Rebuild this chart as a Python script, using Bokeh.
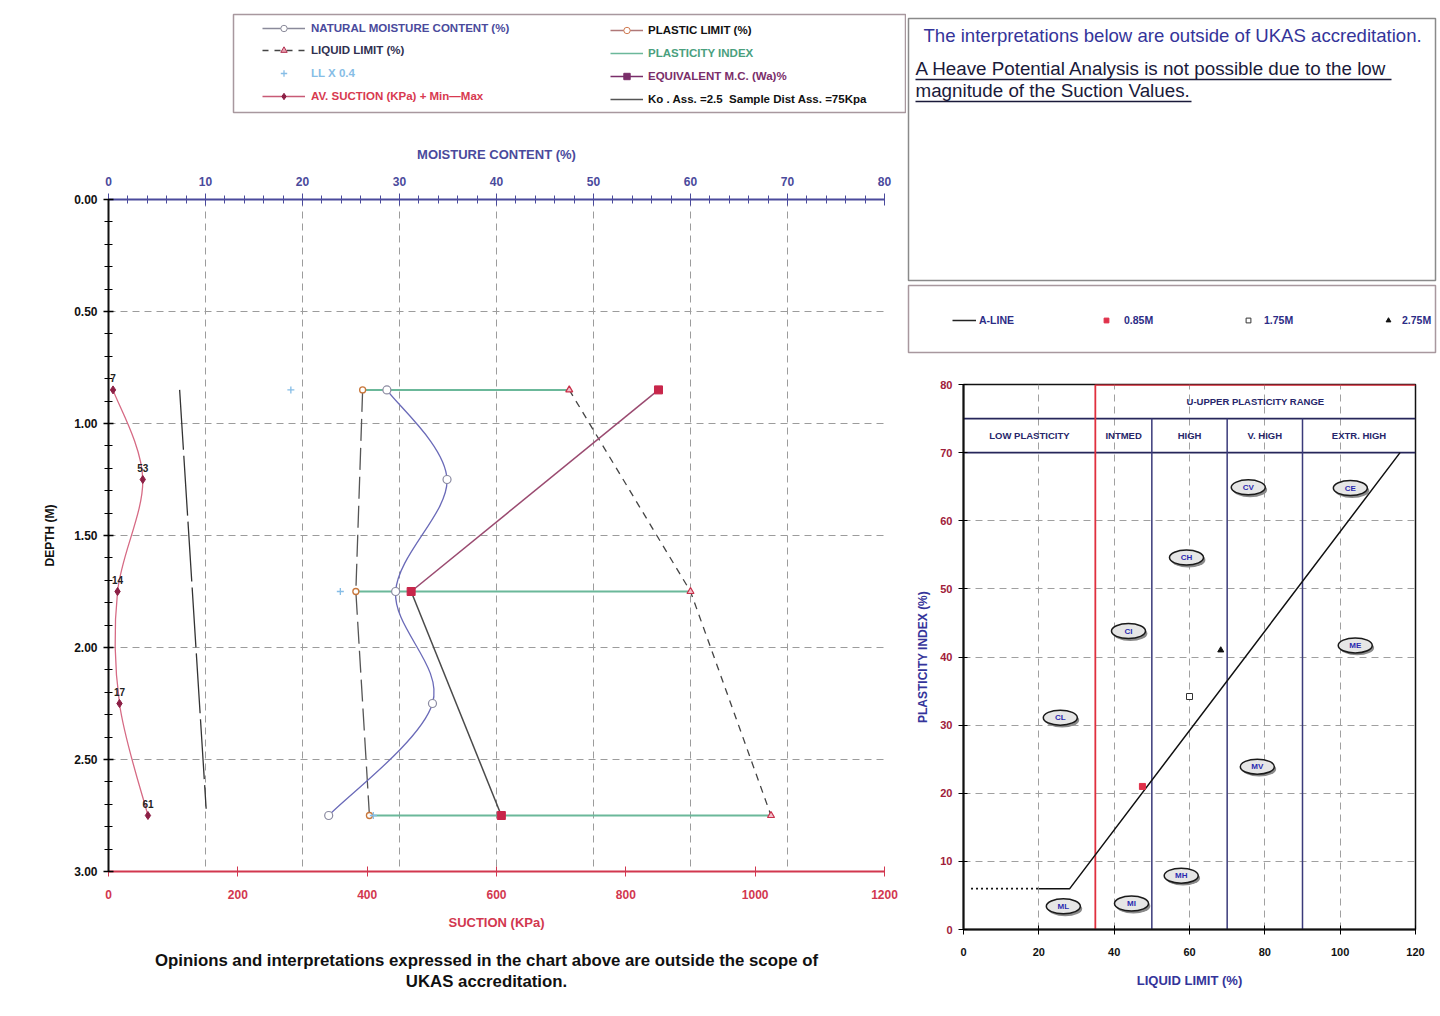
import numpy as np
from bokeh.plotting import figure
from bokeh.layouts import row, column
from bokeh.models import (Range1d, LinearAxis, FixedTicker, NumeralTickFormatter,
                          Legend, LegendItem, ColumnDataSource)
from bokeh.core.properties import value
from bokeh.embed import file_html
from bokeh.resources import INLINE

FONT = "Liberation Sans"

# ---------------- data ----------------
sample_depth = [0.85, 1.75, 2.75]
liquid_limit = [47.5, 60.0, 68.3]
plastic_limit = [26.2, 25.5, 26.9]
plasticity_index = [21.0, 34.2, 41.0]
ll_x04 = [18.8, 23.9, 27.3]
equivalent_mc = [56.7, 31.2, 40.5]

mc_depth = [0.85, 1.25, 1.75, 2.25, 2.75]
natural_mc = [28.7, 34.9, 29.6, 33.4, 22.7]

suction_depth = [0.85, 1.25, 1.75, 2.25, 2.75]
av_suction = [7, 53, 14, 17, 61]

ko_depth = [0.85, 2.72]
ko_suction = [110, 151]

moisture_ticks = [0, 10, 20, 30, 40, 50, 60, 70, 80]
moisture_minor = list(range(0, 81, 2))
depth_ticks = [0.0, 0.5, 1.0, 1.5, 2.0, 2.5, 3.0]
depth_minor = [round(i * 0.1, 1) for i in range(31)]
suction_ticks = [0, 200, 400, 600, 800, 1000, 1200]

# plasticity chart
sample_labels = ["0.85M", "1.75M", "2.75M"]
sample_markers = ["square", "square", "triangle"]
a_line_ll = [20, 28.2, 115.9]
a_line_pi = [6, 6, 70]
a_line_ext_ll = [2, 20]
a_line_ext_pi = [6, 6]
zone_bounds = [0, 35, 50, 70, 90, 120]
zone_names = ["LOW PLASTICITY", "INTMED", "HIGH", "V. HIGH", "EXTR. HIGH"]
upper_range_name = "U-UPPER PLASTICITY RANGE"
header_levels = [70, 75, 80]
class_codes = ["CV", "CE", "CH", "CI", "ME", "CL", "MV", "MH", "MI", "ML"]
class_ll = [75.6, 102.7, 59.2, 43.8, 104.0, 25.7, 78.0, 57.8, 44.6, 26.5]
class_pi = [64.9, 64.8, 54.6, 43.8, 41.7, 31.1, 23.9, 7.9, 3.8, 3.4]
ll_ticks = [0, 20, 40, 60, 80, 100, 120]
pi_ticks = [0, 10, 20, 30, 40, 50, 60, 70, 80]

note_lines = ["The interpretations below are outside of UKAS accreditation.",
              "A Heave Potential Analysis is not possible due to the low",
              "magnitude of the Suction Values."]
caption_lines = ["Opinions and interpretations expressed in the chart above are outside the scope of",
                 "UKAS accreditation."]

# ---------------- colours ----------------
C_BLUE = "#4a4a9c"
C_RED = "#d2374f"
C_NAVY = "#2c2c86"

OFF = dict(x=[-10, -9], y=[-10, -9])   # legend-only renderers sit outside the view


def smooth(xs, ys):
    """Bezier control points (Catmull-Rom style, like spreadsheet smoothed lines)."""
    x = np.asarray(xs, float)
    y = np.asarray(ys, float)
    n = len(x)
    xp = np.concatenate([[x[0]], x, [x[-1]]])
    yp = np.concatenate([[y[0]], y, [y[-1]]])
    cx0 = x[:-1] + (xp[2:n + 1] - xp[0:n - 1]) / 6.0
    cy0 = y[:-1] + (yp[2:n + 1] - yp[0:n - 1]) / 6.0
    cx1 = x[1:] - (xp[3:n + 2] - xp[1:n]) / 6.0
    cy1 = y[1:] - (yp[3:n + 2] - yp[1:n]) / 6.0
    return dict(x0=x[:-1], y0=y[:-1], x1=x[1:], y1=y[1:], cx0=cx0, cy0=cy0, cx1=cx1, cy1=cy1)


def bare(fig):
    fig.grid.visible = False
    fig.background_fill_color = "white"
    fig.border_fill_color = "white"


def add_legend(fig, rends, label, color, x, y, gw, standoff, size="11.5px"):
    lg = Legend(items=[LegendItem(label=label, renderers=rends)], location=(x, y),
                padding=0, margin=0, spacing=0, glyph_width=gw, glyph_height=16,
                label_height=16, label_standoff=standoff,
                label_text_font=FONT, label_text_font_size=size,
                label_text_font_style="bold", label_text_color=color,
                border_line_color=None, background_fill_alpha=0)
    fig.add_layout(lg)


# ================= LEFT: legend box =================
leg = figure(width=906, height=130, x_range=Range1d(0, 1), y_range=Range1d(0, 1),
             x_axis_location=None, y_axis_location=None, toolbar_location=None,
             output_backend="svg", min_border_left=233, min_border_right=1,
             min_border_top=14, min_border_bottom=18, frame_align=False)
bare(leg)
leg.outline_line_color = "#a8989e"
leg.outline_line_width = 1.5

r1a = leg.line(**OFF, line_color="#8a8a9a", line_width=1.3)
r1b = leg.scatter(**OFF, marker="circle", size=6, fill_color="white", line_color="#8a8a9a")
r2a = leg.line(**OFF, line_color="#444", line_width=1.3, line_dash="6 6")
r2b = leg.scatter(**OFF, marker="triangle", size=6, fill_color="#e8a0b0", line_color="#b03050")
r3 = leg.scatter(**OFF, marker="cross", size=6, line_color="#86bde6", line_width=1.3)
r4a = leg.line(**OFF, line_color="#c85a76", line_width=1.3)
r4b = leg.scatter(**OFF, marker="diamond", size=7, fill_color="#8c1f45", line_color="#8c1f45")
r5a = leg.line(**OFF, line_color="#b07878", line_width=1.3)
r5b = leg.scatter(**OFF, marker="circle", size=6, fill_color="white", line_color="#d07a50")
r6 = leg.line(**OFF, line_color="#6bb89a", line_width=1.6)
r7a = leg.line(**OFF, line_color="#7a2e6a", line_width=1.6)
r7b = leg.scatter(**OFF, marker="square", size=6, fill_color="#7a2e6a", line_color="#7a2e6a")
r8 = leg.line(**OFF, line_color="#555", line_width=1.6)

# col 1 (frame left = 233, frame bottom = 112)
add_legend(leg, [r1a, r1b], "NATURAL MOISTURE CONTENT (%)", C_BLUE, 29, 112 - 28 - 8, 43, 6)
add_legend(leg, [r2a, r2b], "LIQUID LIMIT (%)", "#303050", 29, 112 - 50 - 8, 43, 6)
add_legend(leg, [r3], "LL X 0.4", "#86bde6", 29, 112 - 73 - 8, 43, 6)
add_legend(leg, [r4a, r4b], "AV. SUCTION (KPa) + Min\u2014Max", "#d83a50", 29, 112 - 96 - 8, 43, 6)
# col 2
add_legend(leg, [r5a, r5b], "PLASTIC LIMIT (%)", "#111", 377, 112 - 30 - 8, 33, 5)
add_legend(leg, [r6], "PLASTICITY INDEX", "#4aa07e", 377, 112 - 53 - 8, 33, 5)
add_legend(leg, [r7a, r7b], "EQUIVALENT M.C. (Wa)%", "#7a2e6a", 377, 112 - 76 - 8, 33, 5)
add_legend(leg, [r8], "Ko . Ass. =2.5  Sample Dist Ass. =75Kpa", "#111", 377, 112 - 99 - 8, 33, 5)

# ================= LEFT: main depth chart =================
main = figure(width=906, height=810, x_range=Range1d(0, 80), y_range=Range1d(3.0, 0.0),
              x_axis_location="above", toolbar_location=None, output_backend="svg",
              min_border_left=108, min_border_right=22, min_border_top=69,
              min_border_bottom=69, frame_align=False)
main.extra_x_ranges = {"suction": Range1d(0, 1200)}
main.outline_line_color = None
main.background_fill_color = "white"

top = main.xaxis[0]
top.ticker = FixedTicker(ticks=moisture_ticks, minor_ticks=moisture_minor)
top.axis_label = "MOISTURE CONTENT (%)"
top.axis_line_color = C_BLUE
top.axis_line_width = 2
top.major_tick_line_color = C_BLUE
top.minor_tick_line_color = C_BLUE
top.major_tick_in = 6
top.major_tick_out = 6
top.minor_tick_in = 4
top.minor_tick_out = 4
top.major_label_text_color = C_BLUE
top.major_label_text_font = FONT
top.major_label_text_font_size = "12px"
top.major_label_text_font_style = "bold"
top.major_label_standoff = 8
top.axis_label_text_color = C_BLUE
top.axis_label_text_font = FONT
top.axis_label_text_font_size = "13px"
top.axis_label_text_font_style = "bold"
top.axis_label_standoff = 12

left = main.yaxis[0]
left.ticker = FixedTicker(ticks=depth_ticks, minor_ticks=depth_minor)
left.formatter = NumeralTickFormatter(format="0.00")
left.axis_label = "DEPTH (M)"
left.axis_line_color = "#111"
left.axis_line_width = 2
left.major_tick_in = 5
left.major_tick_out = 5
left.minor_tick_in = 4
left.minor_tick_out = 4
left.major_tick_line_width = 1.5
left.major_label_text_font = FONT
left.major_label_text_font_size = "12px"
left.major_label_text_font_style = "bold"
left.major_label_text_color = "#111"
left.major_label_standoff = 6
left.axis_label_text_font = FONT
left.axis_label_text_font_size = "12px"
left.axis_label_text_font_style = "bold"
left.axis_label_text_color = "#111"
left.axis_label_standoff = 14

sax = LinearAxis(x_range_name="suction", ticker=FixedTicker(ticks=suction_ticks),
                 axis_label="SUCTION (KPa)")
sax.axis_line_color = C_RED
sax.axis_line_width = 2
sax.major_tick_line_color = C_RED
sax.major_tick_in = 5
sax.major_tick_out = 5
sax.minor_tick_line_color = None
sax.major_label_text_color = C_RED
sax.major_label_text_font = FONT
sax.major_label_text_font_size = "12px"
sax.major_label_text_font_style = "bold"
sax.major_label_standoff = 13
sax.axis_label_text_color = C_RED
sax.axis_label_text_font = FONT
sax.axis_label_text_font_size = "13px"
sax.axis_label_text_font_style = "bold"
sax.axis_label_standoff = 13
main.add_layout(sax, "below")

for g in (main.xgrid[0], main.ygrid[0]):
    g.grid_line_color = "#9c9c9c"
    g.grid_line_dash = "7 5"
    g.grid_line_width = 1

# Ko line (suction scale)
main.line(ko_suction, ko_depth, x_range_name="suction", line_color="#333",
          line_width=1.3, line_dash="60 6")

# plasticity index bars (PL -> LL)
main.segment(x0=plastic_limit, y0=sample_depth, x1=liquid_limit, y1=sample_depth,
             line_color="#6bb89a", line_width=2)

# liquid limit
main.line(liquid_limit, sample_depth, line_color="#444", line_width=1.3, line_dash="7 6")
main.scatter(liquid_limit, sample_depth, marker="triangle", size=7,
             fill_color="#f3c0cb", line_color="#c8304a", line_width=1.2)

# plastic limit
main.line(plastic_limit, sample_depth, line_color="#555", line_width=1.3, line_dash="22 7")
main.scatter(plastic_limit, sample_depth, marker="circle", size=6,
             fill_color="white", line_color="#c8763a", line_width=1.3)

# LL x 0.4
main.scatter(ll_x04, sample_depth, marker="cross", size=7, line_color="#86bde6", line_width=1.3)

# equivalent M.C.
main.line(equivalent_mc[:2], sample_depth[:2], line_color="#9a4a70", line_width=1.5)
main.line(equivalent_mc[1:], sample_depth[1:], line_color="#4a4a4a", line_width=1.5)
main.scatter(equivalent_mc, sample_depth, marker="square", size=8,
             fill_color="#c8264a", line_color="#c8264a")

# natural moisture content (smoothed)
nm = smooth(natural_mc, mc_depth)
main.bezier(source=ColumnDataSource(nm), x0="x0", y0="y0", x1="x1", y1="y1",
            cx0="cx0", cy0="cy0", cx1="cx1", cy1="cy1", line_color="#6a6ab8", line_width=1.3)
main.scatter(natural_mc, mc_depth, marker="circle", size=8, fill_color="white",
             line_color="#8a8aa0", line_width=1.2)

# suction (smoothed, suction scale)
sm = smooth(av_suction, suction_depth)
main.bezier(source=ColumnDataSource(sm), x0="x0", y0="y0", x1="x1", y1="y1",
            cx0="cx0", cy0="cy0", cx1="cx1", cy1="cy1", x_range_name="suction",
            line_color="#d66a84", line_width=1.3)
main.scatter(av_suction, suction_depth, x_range_name="suction", marker="diamond", size=8,
             fill_color="#8c1f45", line_color="#8c1f45")
main.text(x=av_suction, y=suction_depth, text=[str(v) for v in av_suction],
          x_range_name="suction", text_align="center", text_baseline="bottom", y_offset=-8,
          text_font=value(FONT), text_font_size="10px", text_font_style="bold",
          text_color="#222")

# ================= LEFT: caption =================
cap = figure(width=906, height=72, x_range=Range1d(0, 906), y_range=Range1d(1012, 940),
             x_axis_location=None, y_axis_location=None, toolbar_location=None,
             output_backend="svg", min_border=0, frame_align=False)
bare(cap)
cap.outline_line_color = None
cap.text(x=[486, 486], y=[960, 981], text=caption_lines, text_align="center",
         text_baseline="middle", text_font=value(FONT), text_font_size="16.8px",
         text_font_style="bold", text_color="#111")

# ================= RIGHT: note box =================
note = figure(width=532, height=282, x_range=Range1d(908, 1435), y_range=Range1d(280, 18),
              x_axis_location=None, y_axis_location=None, toolbar_location=None,
              output_backend="svg", min_border_left=2, min_border_right=3,
              min_border_top=18, min_border_bottom=2, frame_align=False)
bare(note)
note.outline_line_color = "#8a8a8a"
note.outline_line_width = 1.5
note.text(x=[923], y=[35], text=note_lines[:1], text_align="left", text_baseline="middle",
          text_font=value(FONT), text_font_size="18.6px", text_color="#34349a")
note.text(x=[915, 915], y=[68, 90], text=note_lines[1:], text_align="left",
          text_baseline="middle", text_font=value(FONT), text_font_size="18.8px",
          text_color="#1a1a3a")
note.segment(x0=[915, 915], y0=[79, 101], x1=[1391, 1191], y1=[79, 101],
             line_color="#1a1a3a", line_width=1.5)

# ================= RIGHT: plasticity legend =================
leg2 = figure(width=532, height=72, x_range=Range1d(0, 1), y_range=Range1d(0, 1),
              x_axis_location=None, y_axis_location=None, toolbar_location=None,
              output_backend="svg", min_border_left=2, min_border_right=3,
              min_border_top=3, min_border_bottom=2, frame_align=False)
bare(leg2)
leg2.outline_line_color = "#a8989e"
leg2.outline_line_width = 1.5
q1 = leg2.line(**OFF, line_color="#222", line_width=1.5)
q2 = leg2.scatter(**OFF, marker="square", size=6, fill_color="#e0304a", line_color="#e0304a")
q3 = leg2.scatter(**OFF, marker="square", size=6, fill_color="white", line_color="#333")
q4 = leg2.scatter(**OFF, marker="triangle", size=6, fill_color="#111", line_color="#111")
add_legend(leg2, [q1], "A-LINE", C_NAVY, 44, 24, 24, 3, "10.5px")
add_legend(leg2, [q2], sample_labels[0], C_NAVY, 192, 24, 12, 12, "10.5px")
add_legend(leg2, [q3], sample_labels[1], C_NAVY, 334, 24, 12, 10, "10.5px")
add_legend(leg2, [q4], sample_labels[2], C_NAVY, 474, 24, 12, 8, "10.5px")

# ================= RIGHT: plasticity chart =================
pc = figure(width=532, height=658, x_range=Range1d(0, 120), y_range=Range1d(0, 80),
            toolbar_location=None, output_backend="svg",
            min_border_left=57, min_border_right=23, min_border_top=30, min_border_bottom=83,
            frame_align=False)
pc.background_fill_color = "white"
pc.outline_line_color = "#111"
pc.outline_line_width = 1.5

px = pc.xaxis[0]
px.ticker = FixedTicker(ticks=ll_ticks)
px.axis_label = "LIQUID LIMIT (%)"
py = pc.yaxis[0]
py.ticker = FixedTicker(ticks=pi_ticks)
py.axis_label = "PLASTICITY INDEX (%)"
for ax in (px, py):
    ax.axis_line_color = "#111"
    ax.axis_line_width = 2
    ax.major_tick_in = 4
    ax.major_tick_out = 5
    ax.minor_tick_line_color = None
    ax.major_label_text_font = FONT
    ax.major_label_text_font_size = "11px"
    ax.major_label_text_font_style = "bold"
    ax.axis_label_text_font = FONT
    ax.axis_label_text_font_style = "bold"
    ax.axis_label_text_color = "#34349a"
px.major_label_text_color = "#111"
px.major_label_standoff = 13
px.axis_label_text_font_size = "13px"
px.axis_label_standoff = 14
py.major_label_text_color = "#a0203a"
py.major_label_standoff = 6
py.axis_label_text_font_size = "12px"
py.axis_label_standoff = 7

for g in (pc.xgrid[0], pc.ygrid[0]):
    g.grid_line_color = "#a0a0a0"
    g.grid_line_dash = "7 5"
    g.grid_line_width = 1

# header rows
pc.segment(x0=[zone_bounds[0]] * 2, y0=header_levels[:2], x1=[zone_bounds[-1]] * 2,
           y1=header_levels[:2], line_color="#26265a", line_width=1.8)
pc.segment(x0=zone_bounds[2:5], y0=[0] * 3, x1=zone_bounds[2:5], y1=[header_levels[1]] * 3,
           line_color="#3a3a7a", line_width=1.5)
pc.segment(x0=[zone_bounds[1]], y0=[0], x1=[zone_bounds[1]], y1=[header_levels[2]],
           line_color="#e0303e", line_width=1.8)
pc.segment(x0=[zone_bounds[1]], y0=[header_levels[2]], x1=[zone_bounds[-1]],
           y1=[header_levels[2]], line_color="#e0303e", line_width=2.5)
zc = [(a + b) / 2 for a, b in zip(zone_bounds[:-1], zone_bounds[1:])]
pc.text(x=zc, y=[(header_levels[0] + header_levels[1]) / 2] * 5, text=zone_names,
        text_align="center", text_baseline="middle", text_font=value(FONT),
        text_font_size="9.5px", text_font_style="bold", text_color="#26266a")
pc.text(x=[(zone_bounds[1] + zone_bounds[-1]) / 2],
        y=[(header_levels[1] + header_levels[2]) / 2], text=[upper_range_name],
        text_align="center", text_baseline="middle", text_font=value(FONT),
        text_font_size="9.5px", text_font_style="bold", text_color="#26266a")

# A-line
pc.line(a_line_ll, a_line_pi, line_color="#111", line_width=1.5)
pc.line(a_line_ext_ll, a_line_ext_pi, line_color="#111", line_width=1.8, line_dash="2 3")

# class bubbles (with a small drop shadow)
shadow_ll = [v + 0.5 for v in class_ll]
shadow_pi = [v - 0.35 for v in class_pi]
pc.ellipse(x=shadow_ll, y=shadow_pi, width=34, height=15, width_units="screen",
           height_units="screen", fill_color="#8a8a8a", line_color=None)
pc.ellipse(x=class_ll, y=class_pi, width=34, height=15, width_units="screen",
           height_units="screen", fill_color="#e6e6e6", line_color="#1a1a1a", line_width=1.5)
pc.text(x=class_ll, y=class_pi, text=class_codes, text_align="center", text_baseline="middle",
        text_font=value(FONT), text_font_size="8px", text_font_style="bold",
        text_color="#2a2ab0")

# samples
src = ColumnDataSource(dict(ll=liquid_limit, pi=plasticity_index, m=sample_markers,
                            fc=["#e0304a", "white", "#111"], lc=["#e0304a", "#333", "#111"]))
pc.scatter(x="ll", y="pi", marker="m", size=6, fill_color="fc", line_color="lc", source=src)

layout = row(column(leg, main, cap), column(note, leg2, pc))
open("out.html", "w").write(file_html(layout, INLINE))
